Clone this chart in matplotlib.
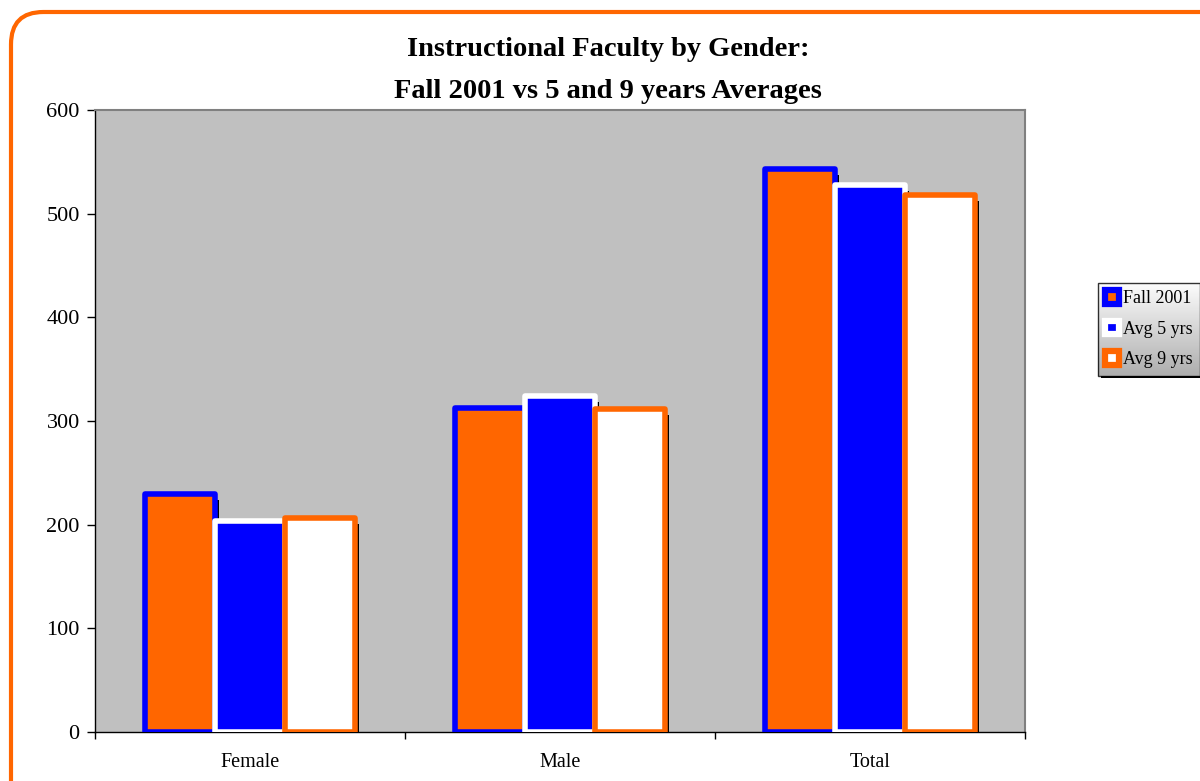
import matplotlib
matplotlib.use("Agg")
import matplotlib.pyplot as plt
import numpy as np
from matplotlib.patches import FancyBboxPatch, Patch, Rectangle
from matplotlib import patheffects as pe

categories = ["Female", "Male", "Total"]
series_names = ["Fall 2001", "Avg 5 yrs", "Avg 9 yrs"]
fall_2001 = [230, 313, 543]
avg_5_yrs = [204, 324, 528]
avg_9_yrs = [206, 312, 518]
title_lines = ["Instructional Faculty by Gender:", "Fall 2001 vs 5 and 9 years Averages"]

plt.rcParams['font.family'] = ['Liberation Serif', 'DejaVu Serif']

fig = plt.figure(figsize=(12, 7.81), dpi=100)
W, H = 1200, 781

# outer rounded border
border = FancyBboxPatch((11 / W, -0.05), 1300 / W, (H - 12) / H + 0.05,
                        boxstyle="round,pad=0,rounding_size=0.027",
                        mutation_aspect=W / H,
                        transform=fig.transFigure, facecolor='none',
                        edgecolor='#FF6600', linewidth=3, zorder=5, clip_on=False)
fig.patches.append(border)

ax = fig.add_axes([95 / W, 1 - 732 / H, 930 / W, 622 / H])
ax.set_facecolor('#C0C0C0')
for s in ax.spines.values():
    s.set_color('#808080')
    s.set_linewidth(1.5)
ax.spines['left'].set_color('black')
ax.spines['left'].set_linewidth(1)
ax.spines['bottom'].set_color('black')
ax.spines['bottom'].set_linewidth(1)

x = np.arange(len(categories))
bw = 0.226
styles = [
    (fall_2001, '#FF6600', '#0000FF'),
    (avg_5_yrs, '#0000FF', '#FFFFFF'),
    (avg_9_yrs, '#FFFFFF', '#FF6600'),
]
shadow = [pe.SimplePatchShadow(offset=(2.9, -4.3), shadow_rgbFace='black', alpha=1.0), pe.Normal()]
for i, (vals, fc, ec) in enumerate(styles):
    bars = ax.bar(x + (i - 1) * bw, vals, width=bw, facecolor=fc, edgecolor=ec,
                  linewidth=4.0, zorder=3, label=series_names[i])
    for b in bars:
        b.set_path_effects(shadow)
        b.set_joinstyle('round')

ax.set_xlim(-0.5, 2.5)
ax.set_ylim(0, 600)
ax.set_yticks(np.arange(0, 601, 100))
ax.tick_params(axis='y', direction='out', length=6, labelsize=16, width=1, pad=5)
ax.set_xticks([-0.5, 0.5, 1.5, 2.5], minor=False)
ax.set_xticklabels([])
ax.set_xticks(x, minor=True)
ax.set_xticklabels(categories, minor=True)
ax.tick_params(axis='x', which='major', direction='out', length=5, width=1)
ax.tick_params(axis='x', which='minor', length=0, labelsize=14.5, pad=15)

fig.text(0.507, 1 - 49 / H, title_lines[0], ha='center', va='center',
         fontsize=20.5, fontweight='bold')
fig.text(0.507, 1 - 91 / H, title_lines[1], ha='center', va='center',
         fontsize=20.5, fontweight='bold')

handles = [Patch(facecolor=fc, edgecolor=ec, linewidth=4.5, joinstyle='round')
           for _, fc, ec in styles]
leg = fig.legend(handles, series_names, loc='upper left',
                 bbox_to_anchor=(1098 / W, 1 - 283 / H), fontsize=13,
                 frameon=True, fancybox=False, shadow=False,
                 handlelength=0.75, handleheight=0.75, handletextpad=0.25,
                 borderpad=0.4, labelspacing=0.75, borderaxespad=0)
leg.get_frame().set_facecolor('none')
leg.get_frame().set_edgecolor('black')
leg.get_frame().set_linewidth(1)
leg.set_zorder(6)

# gradient background and shadow behind legend
fig.canvas.draw()
bb = leg.get_frame().get_window_extent().transformed(fig.transFigure.inverted())
sh = Rectangle((bb.x0 + 2.5 / W, bb.y0 - 2.5 / H), bb.width, bb.height,
               transform=fig.transFigure, facecolor='black', edgecolor='none', zorder=3)
fig.patches.append(sh)
gax = fig.add_axes([bb.x0, bb.y0, bb.width, bb.height], zorder=4)
grad = np.linspace(0.99, 0.68, 100).reshape(-1, 1)
gax.imshow(np.dstack([grad, grad, grad]), aspect='auto', extent=[0, 1, 0, 1], origin='upper')
gax.axis('off')

fig.savefig("out.png", dpi=100)
